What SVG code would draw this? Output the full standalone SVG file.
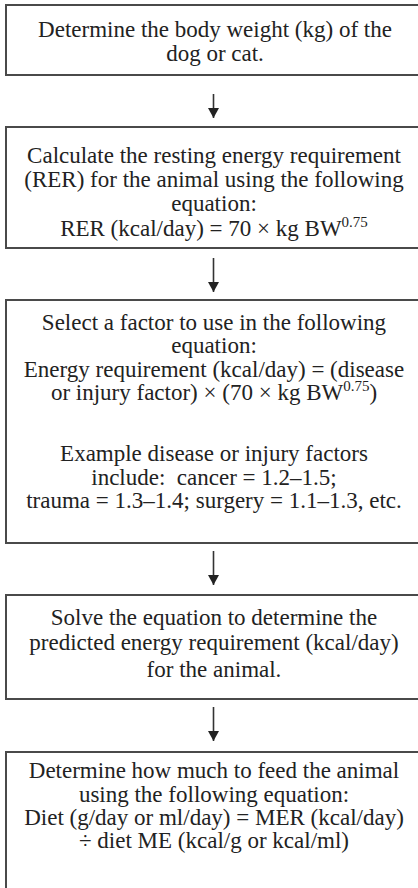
<svg xmlns="http://www.w3.org/2000/svg" width="418" height="888" viewBox="0 0 418 888">
  <style>
    .box { fill: #ffffff; stroke: #4a4a4a; stroke-width: 2; }
    .link { stroke: #333333; stroke-width: 1.6; fill: none; }
    text { font-family: 'Liberation Serif', 'Times New Roman', serif; font-size: 23px; fill: #222222; text-anchor: middle; }
    .sup { font-size: 15px; }
  </style>
  <defs>
    <marker id="arrow" markerUnits="userSpaceOnUse" markerWidth="11" markerHeight="11" refX="10" refY="5.5" orient="auto">
      <path d="M0,0 L10,5.5 L0,11 Z" fill="#222222"/>
    </marker>
  </defs>
  <rect width="418" height="888" fill="#ffffff"/>

  <g id="connectors">
    <line class="link" x1="213.5" y1="94" x2="213.5" y2="118" marker-end="url(#arrow)"/>
    <line class="link" x1="213.5" y1="258" x2="213.5" y2="292" marker-end="url(#arrow)"/>
    <line class="link" x1="213.5" y1="551" x2="213.5" y2="585" marker-end="url(#arrow)"/>
    <line class="link" x1="213.5" y1="707" x2="213.5" y2="741" marker-end="url(#arrow)"/>
  </g>

  <g id="step-weight">
    <rect class="box" x="6" y="5" width="420" height="70"/>
    <text x="215" y="37">Determine the body weight (kg) of the</text>
    <text x="215" y="61">dog or cat.</text>
  </g>

  <g id="step-rer">
    <rect class="box" x="6" y="127" width="420" height="121"/>
    <text x="214" y="163">Calculate the resting energy requirement</text>
    <text x="214" y="187">(RER) for the animal using the following</text>
    <text x="214" y="211">equation:</text>
    <text x="214" y="236">RER (kcal/day) = 70 × kg BW<tspan class="sup" dy="-9">0.75</tspan></text>
  </g>

  <g id="step-factor">
    <rect class="box" x="6" y="300" width="420" height="243"/>
    <text x="214" y="330">Select a factor to use in the following</text>
    <text x="214" y="353">equation:</text>
    <text x="214" y="377">Energy requirement (kcal/day) = (disease</text>
    <text x="214" y="400">or injury factor) × (70 × kg BW<tspan class="sup" dy="-9">0.75</tspan><tspan dy="9">)</tspan></text>
    <text x="214" y="461">Example disease or injury factors</text>
    <text x="214" y="485">include:&#160; cancer = 1.2–1.5;</text>
    <text x="214" y="508">trauma = 1.3–1.4; surgery = 1.1–1.3, etc.</text>
  </g>

  <g id="step-solve">
    <rect class="box" x="6" y="595" width="420" height="104"/>
    <text x="214" y="625">Solve the equation to determine the</text>
    <text x="214" y="650">predicted energy requirement (kcal/day)</text>
    <text x="214" y="677">for the animal.</text>
  </g>

  <g id="step-feed">
    <rect class="box" x="6" y="752" width="420" height="150"/>
    <text x="214" y="778">Determine how much to feed the animal</text>
    <text x="214" y="802">using the following equation:</text>
    <text x="214" y="825">Diet (g/day or ml/day) = MER (kcal/day)</text>
    <text x="214" y="848">÷ diet ME (kcal/g or kcal/ml)</text>
  </g>
</svg>
